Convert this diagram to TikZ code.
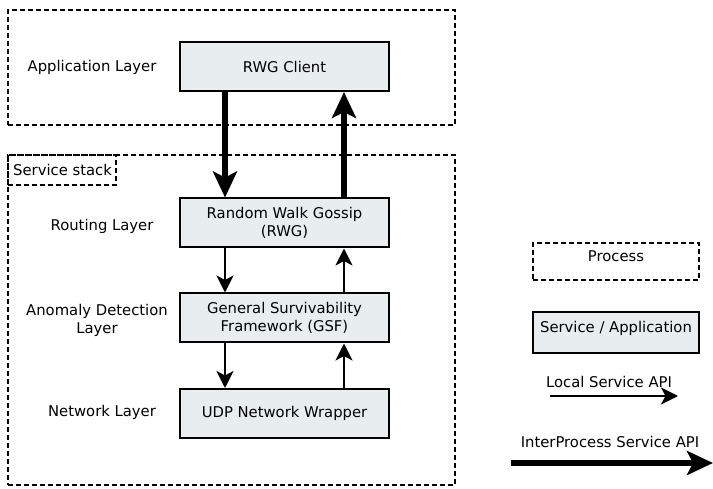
\documentclass[tikz,border=0pt]{standalone}
\usepackage{fontspec}
\setmainfont{DejaVu Sans}
\usetikzlibrary{arrows.meta}
\definecolor{boxfill}{RGB}{232,238,240}
\tikzset{
  procbox/.style={draw, line width=1.8pt, dash pattern=on 5pt off 3pt, inner sep=0pt},
  svcbox/.style={draw, line width=2pt, fill=boxfill, minimum width=209pt, minimum height=49pt, align=center, inner sep=0pt},
  layerlabel/.style={align=center, inner sep=0pt},
  localapi/.style={line width=2.2pt, -{Stealth[length=17pt, width=17pt, inset=4.5pt]}},
  interapi/.style={line width=6pt, -{Stealth[length=26pt, width=24pt, inset=6pt]}},
}
\begin{document}
\begin{tikzpicture}[x=1pt, y=-1pt, font=\fontsize{14.8}{18}\selectfont]
\useasboundingbox (0,0) rectangle (713,489);

% process boundaries
\node[procbox, minimum width=447pt, minimum height=115pt] (appproc) at (231.5,67.5) {};
\node[procbox, minimum width=447pt, minimum height=330pt] (stackproc) at (231.5,320) {};
\node[procbox, minimum width=108pt, minimum height=30pt, anchor=north west] (stacktag) at (stackproc.north west) {};
\node[anchor=west, inner sep=0pt] (stacktext) at (13,169.5) {Service stack};

% services
\node[svcbox] (client) at (284.5,66.5) {RWG Client};
\node[svcbox] (rwg) at (284.5,223) {Random Walk Gossip\\(RWG)};
\node[svcbox] (gsf) at (284.5,318) {General Survivability\\Framework (GSF)};
\node[svcbox] (udp) at (284.5,413.5) {UDP Network Wrapper};

% layer names
\node[layerlabel] (applabel) at (92,67) {Application Layer};
\node[layerlabel] (routelabel) at (102,226) {Routing Layer};
\node[layerlabel] (anomlabel) at (97,320) {Anomaly Detection\\Layer};
\node[layerlabel] (netlabel) at (102,412) {Network Layer};

% interprocess calls
\draw[interapi] ([xshift=-59.5pt]client.south) -- ([xshift=-59.5pt]rwg.north);
\draw[interapi] ([xshift=59.5pt]rwg.north) -- ([xshift=59.5pt]client.south);

% local calls
\draw[localapi] ([xshift=-59.5pt]rwg.south) -- ([xshift=-59.5pt]gsf.north);
\draw[localapi] ([xshift=59.5pt]gsf.north) -- ([xshift=59.5pt]rwg.south);
\draw[localapi] ([xshift=-59.5pt]gsf.south) -- ([xshift=-59.5pt]udp.north);
\draw[localapi] ([xshift=59.5pt]udp.north) -- ([xshift=59.5pt]gsf.south);

% legend
\node[procbox, minimum width=166pt, minimum height=37pt] (legproc) at (616,261.5) {};
\node[inner sep=0pt] (legproctext) at (616,256.5) {Process};
\node[svcbox, minimum width=166pt, minimum height=41pt] (legsvc) at (616,332.5) {};
\node[inner sep=0pt] (legsvctext) at (616,328.5) {Service / Application};
\node[inner sep=0pt] (leglocaltext) at (609,382) {Local Service API};
\coordinate (locA) at (550,396);
\coordinate (locB) at (678,396);
\draw[localapi] (locA) -- (locB);
\node[inner sep=0pt] (leginternext) at (610,442) {InterProcess Service API};
\coordinate (intA) at (511,463);
\coordinate (intB) at (713,463);
\draw[interapi] (intA) -- (intB);
\end{tikzpicture}
\end{document}
